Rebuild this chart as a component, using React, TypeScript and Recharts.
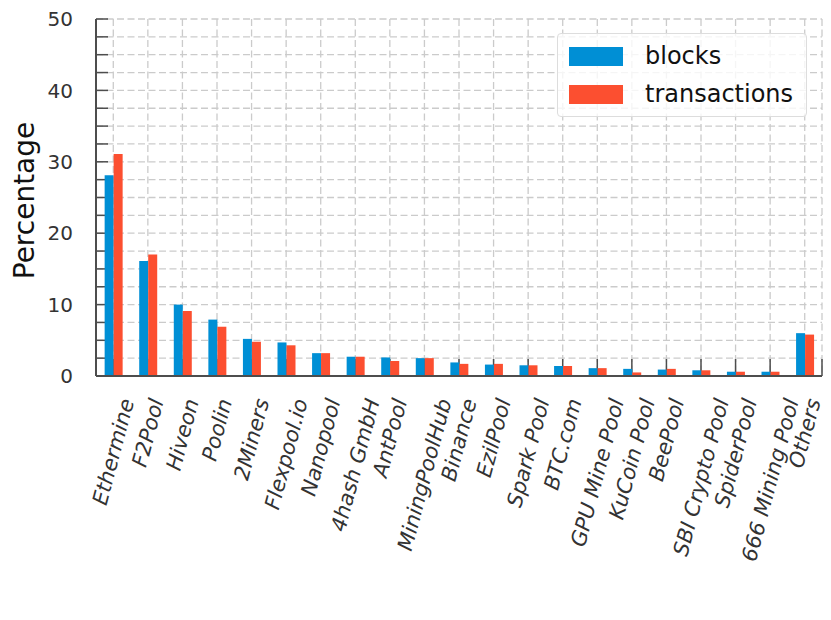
import { BarChart, Bar, XAxis, YAxis, CartesianGrid } from "recharts"

const pools = [
  "Ethermine",
  "F2Pool",
  "Hiveon",
  "Poolin",
  "2Miners",
  "Flexpool.io",
  "Nanopool",
  "4hash GmbH",
  "AntPool",
  "MiningPoolHub",
  "Binance",
  "EzilPool",
  "Spark Pool",
  "BTC.com",
  "GPU Mine Pool",
  "KuCoin Pool",
  "BeePool",
  "SBI Crypto Pool",
  "SpiderPool",
  "666 Mining Pool",
  "Others",
]

const blocks = [28.1, 16.1, 10.0, 7.9, 5.2, 4.7, 3.2, 2.7, 2.6, 2.5, 1.9, 1.6, 1.5, 1.4, 1.1, 1.0, 0.9, 0.8, 0.6, 0.6, 6.0]
const transactions = [31.1, 17.0, 9.1, 6.9, 4.8, 4.3, 3.2, 2.7, 2.1, 2.5, 1.7, 1.7, 1.5, 1.4, 1.1, 0.5, 1.0, 0.8, 0.6, 0.6, 5.8]

const yTicks = [0, 2.5, 5, 7.5, 10, 12.5, 15, 17.5, 20, 22.5, 25, 27.5, 30, 32.5, 35, 37.5, 40, 42.5, 45, 47.5, 50]

const data = pools.map((name, i) => ({ name, blocks: blocks[i], transactions: transactions[i] }))

const colors = {
  blocks: "#008fd5",
  transactions: "#fc4f30",
  grid: "#cbcbcb",
  axis: "#4d4d4d",
  text: "#333333",
}

const FONT = "'DejaVu Sans', sans-serif"

let canvas: HTMLCanvasElement | null = null
function measure(text: string, size: number) {
  if (!canvas) canvas = document.createElement("canvas")
  const ctx = canvas.getContext("2d")
  if (!ctx) return text.length * size * 0.6
  ctx.font = `oblique ${size}px 'DejaVu Sans'`
  return ctx.measureText(text).width
}

function XTick({ x, y, payload }: any) {
  const fs = 21
  const L = measure(payload.value, fs)
  const h = 1.164 * fs
  const d = 0.236 * fs
  const c = Math.cos((75 * Math.PI) / 180)
  const s = Math.sin((75 * Math.PI) / 180)
  const top = y + 20
  // box centred on the tick, top aligned just below the axis (like rotated mpl labels)
  const ox = x - (c * L - s * h) / 2
  const oy = top + s * L + c * h
  const bx = ox - s * d
  const by = oy - c * d
  return (
    <text
      x={bx}
      y={by}
      transform={`rotate(-75 ${bx} ${by})`}
      fontSize={fs}
      fontStyle="oblique"
      fontFamily={FONT}
      fill={colors.text}
    >
      {payload.value}
    </text>
  )
}

function YTick({ x, y, payload }: any) {
  if (payload.value % 10 !== 0) return null
  return (
    <text x={x - 23} y={y} dy="0.36em" textAnchor="end" fontSize={20} fontFamily={FONT} fill={colors.text}>
      {payload.value}
    </text>
  )
}

function YLabel({ viewBox }: any) {
  const cy = viewBox.y + viewBox.height / 2 + 3
  return (
    <text x={34} y={cy} transform={`rotate(-90 34 ${cy})`} textAnchor="middle" fontSize={28} fontFamily={FONT} fill="#111">
      Percentage
    </text>
  )
}

// grid lines with the inward tick marks, so they sit behind the bars
function HLine(props: any) {
  return (
    <g key={props.key}>
      <line x1={props.x1} y1={props.y1} x2={props.x2} y2={props.y2} stroke={colors.grid} strokeWidth={1.3} strokeDasharray="7 3.5" />
      <line x1={props.x1} y1={props.y1} x2={props.x1 + 12} y2={props.y1} stroke={colors.axis} strokeWidth={1.5} />
    </g>
  )
}

function VLine(props: any) {
  return (
    <g key={props.key}>
      <line x1={props.x1} y1={props.y1} x2={props.x2} y2={props.y2} stroke={colors.grid} strokeWidth={1.3} strokeDasharray="7 3.5" />
      <line x1={props.x1} y1={props.y2} x2={props.x1} y2={props.y2 - 17} stroke={colors.axis} strokeWidth={1.5} />
    </g>
  )
}

function LegendBox() {
  const row = (color: string, label: string) => (
    <div style={{ display: "flex", alignItems: "center", height: 38 }}>
      <div style={{ width: 54, height: 19, background: color, marginRight: 22 }} />
      <span style={{ fontSize: 24, fontFamily: FONT, color: "#111" }}>{label}</span>
    </div>
  )
  return (
    <div
      style={{
        position: "absolute",
        left: 557,
        top: 33,
        width: 250,
        height: 84,
        padding: "3px 0 0 11px",
        boxSizing: "border-box",
        background: "rgba(255,255,255,0.8)",
        border: "1px solid #dddddd",
        borderRadius: 4,
      }}
    >
      {row(colors.blocks, "blocks")}
      {row(colors.transactions, "transactions")}
    </div>
  )
}

export default function App() {
  return (
    <div style={{ position: "relative", width: 831, height: 620, background: "#fff" }}>
      <style>{`body { margin: 0; }`}</style>
      <BarChart
        width={831}
        height={620}
        data={data}
        margin={{ top: 19, right: 9, left: 0, bottom: 0 }}
        barCategoryGap="25%"
        barGap={0}
      >
        <CartesianGrid horizontal={HLine} vertical={VLine} />
        <XAxis
          dataKey="name"
          height={244}
          interval={0}
          tickSize={0}
          tickMargin={0}
          tick={<XTick />}
          axisLine={{ stroke: colors.axis, strokeWidth: 2 }}
          tickLine={false}
        />
        <YAxis
          width={96}
          domain={[0, 50]}
          ticks={yTicks}
          interval={0}
          tickSize={0}
          tickMargin={0}
          tick={<YTick />}
          tickLine={false}
          axisLine={{ stroke: colors.axis, strokeWidth: 2 }}
          label={<YLabel />}
        />
        <Bar dataKey="blocks" fill={colors.blocks} isAnimationActive={false} />
        <Bar dataKey="transactions" fill={colors.transactions} isAnimationActive={false} />
      </BarChart>
      <LegendBox />
    </div>
  )
}
